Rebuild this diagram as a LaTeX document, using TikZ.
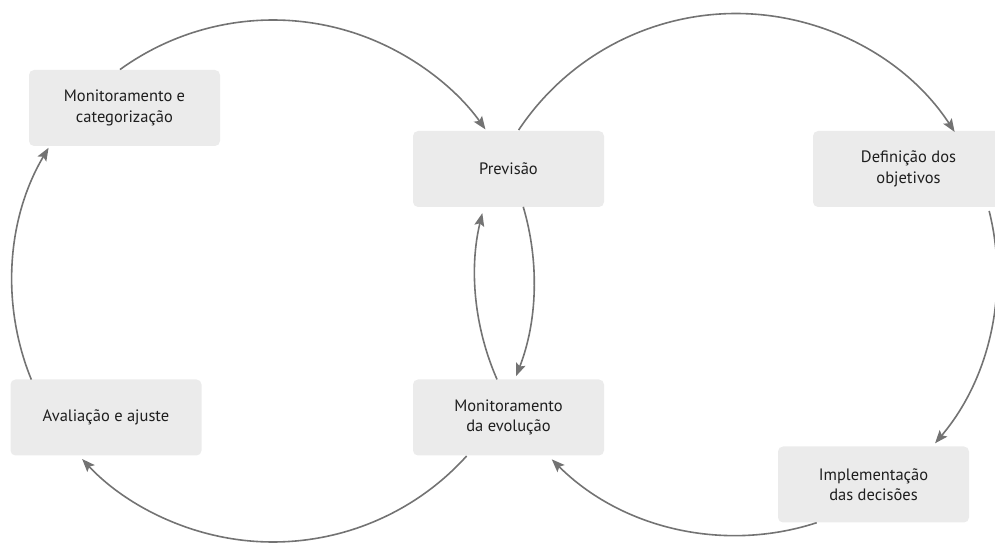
\documentclass[tikz,border=0pt]{standalone}
\usepackage{fontspec}
\setmainfont{PT Sans}
\usetikzlibrary{arrows.meta}
\definecolor{boxfill}{HTML}{EBEBEB}
\definecolor{linkgray}{HTML}{737373}
\definecolor{textgray}{HTML}{1E1E1E}
\begin{document}
\begin{tikzpicture}[x=1pt,y=1pt,
  stage/.style={fill=boxfill, rounded corners=5pt, minimum width=191pt, minimum height=76pt,
    align=center, inner sep=0pt, text=textgray, font=\fontsize{16.5}{20.5}\selectfont},
  link/.style={draw=linkgray, line width=1.6pt,
    -{Stealth[length=13pt,width=10pt,inset=2.5pt]}}]
\useasboundingbox (0,0) rectangle (995,545);

% stages
\node[stage] (mc)   at (124.5,437)  {Monitoramento e\\categorização};
\node[stage] (prev) at (508.5,376)  {Previsão};
\node[stage] (def)  at (908.5,376)  {Definição dos\\objetivos};
\node[stage] (aval) at (106,127.5)  {Avaliação e ajuste};
\node[stage] (me)   at (508.5,127.5){Monitoramento\\da evolução};
\node[stage] (impl) at (873.5,60.5) {Implementação\\das decisões};

% centres of the two cycles
\coordinate (cl) at (273,264);
\coordinate (cr) at (736,270.5);

% left cycle: start points of each arc
\path (cl) ++(125.9:261) coordinate (l1)
      (cl) ++(16.5:261)  coordinate (l2)
      (cl) ++(-42.1:261) coordinate (l3)
      (cl) ++(202.2:261) coordinate (l4);
% right cycle: start points of each arc
\path (cr) ++(146.4:261) coordinate (r1)
      (cr) ++(14.1:261)  coordinate (r2)
      (cr) ++(-72.0:261) coordinate (r3)
      (cr) ++(203.7:261) coordinate (r4);

% left cycle
\draw[link] (l1) arc[start angle=125.9, end angle=35.5,  radius=261]; % mc -> prev
\draw[link] (l2) arc[start angle=16.5,  end angle=-21.4, radius=261]; % prev -> me
\draw[link] (l3) arc[start angle=-42.1, end angle=-137,  radius=261]; % me -> aval
\draw[link] (l4) arc[start angle=202.2, end angle=149.3, radius=261]; % aval -> mc

% right cycle
\draw[link] (r1) arc[start angle=146.4, end angle=33.1,  radius=261]; % prev -> def
\draw[link] (r2) arc[start angle=14.1,  end angle=-40.3, radius=261]; % def -> impl
\draw[link] (r3) arc[start angle=-72,   end angle=-134.9,radius=261]; % impl -> me
\draw[link] (r4) arc[start angle=203.7, end angle=166.4, radius=261]; % me -> prev
\end{tikzpicture}
\end{document}
